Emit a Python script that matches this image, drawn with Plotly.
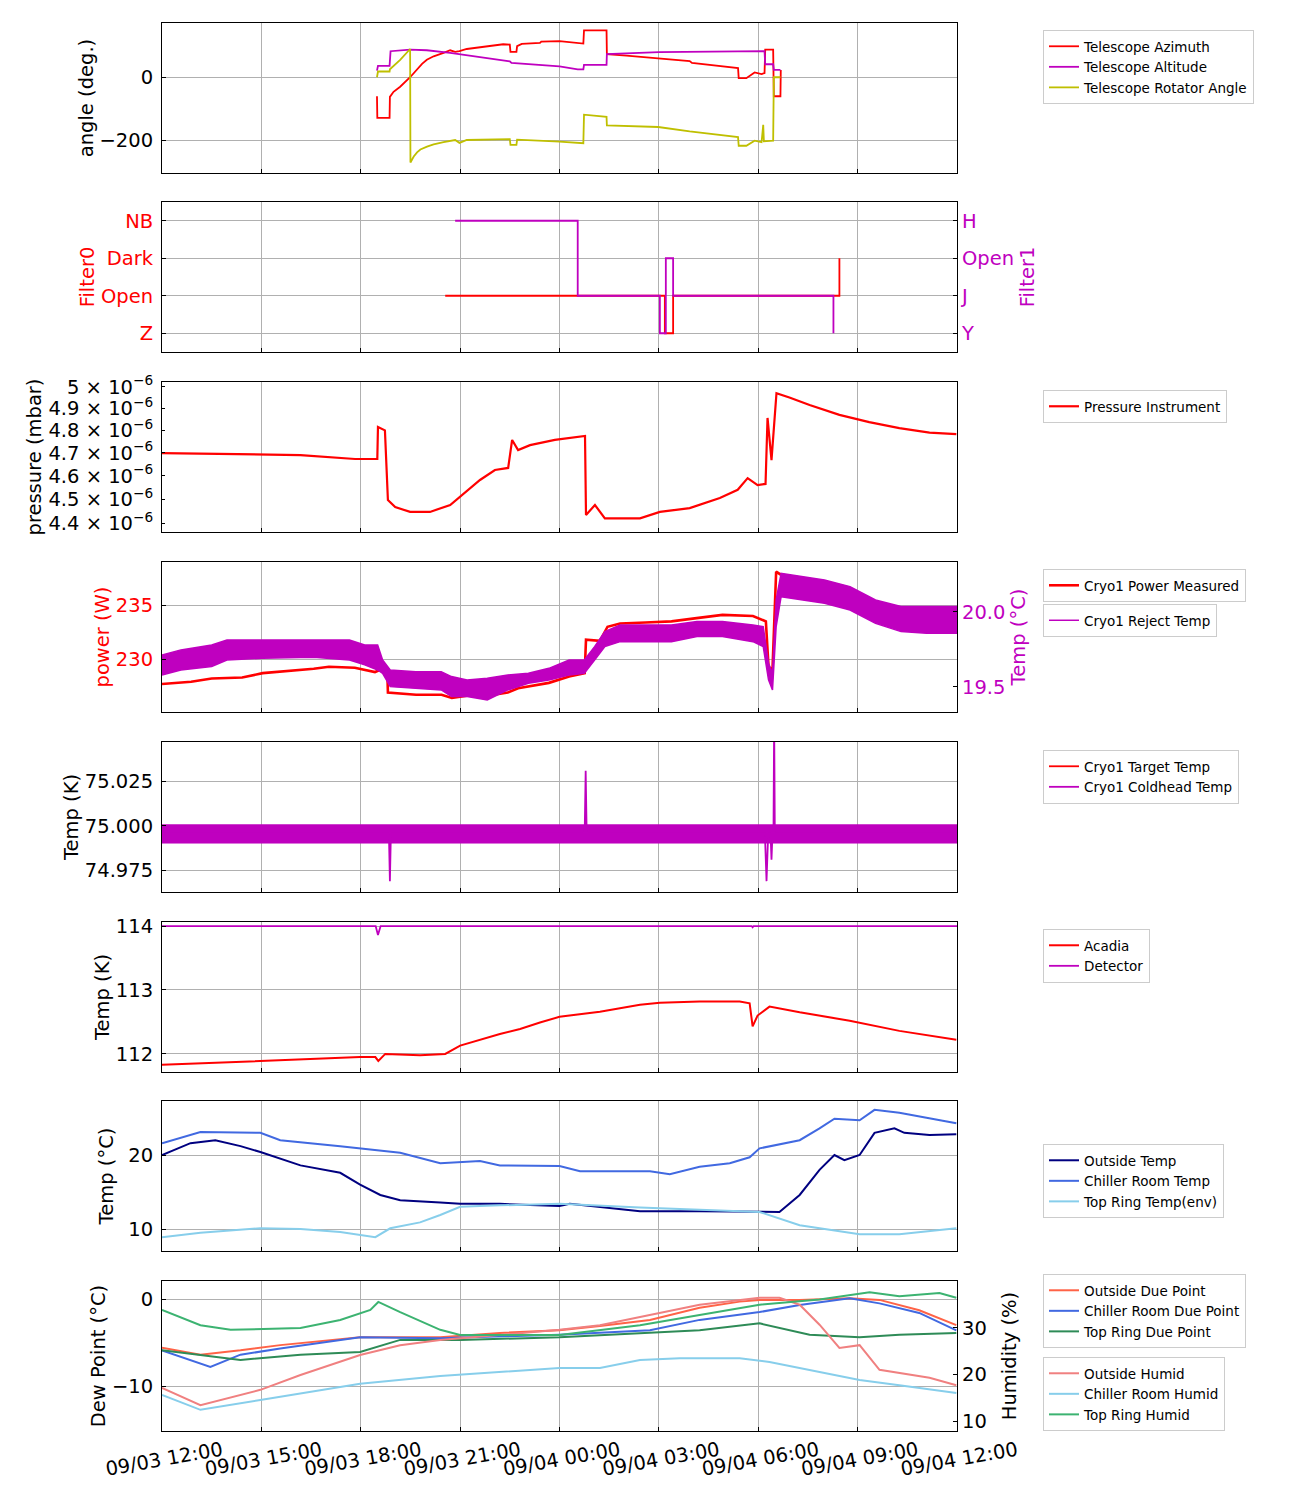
import pandas as pd
import plotly.graph_objects as go

BASE = pd.Timestamp("2023-09-03 00:00")


def T(hours):
    return [BASE + pd.Timedelta(hours=h) for h in hours]


# ---------------- x ticks ----------------
TICK_HOURS = [12, 15, 18, 21, 24, 27, 30, 33, 36]
TICK_LABELS = ["09/03 12:00", "09/03 15:00", "09/03 18:00", "09/03 21:00",
               "09/04 00:00", "09/04 03:00", "09/04 06:00", "09/04 09:00", "09/04 12:00"]

# ---------------- panel 1: telescope angles (deg) ----------------
AZ_H = [18.49, 18.50, 18.87, 18.88, 18.99, 19.19, 19.49, 19.7, 19.85, 19.995, 20.2, 20.5, 20.7, 20.85,
        20.98, 21.2, 21.5, 22.0, 22.3, 22.5, 22.52, 22.7, 22.72, 22.86, 23.41, 23.45, 24.0, 24.72, 24.74,
        25.42, 25.43, 26.02, 26.98, 27.93, 28.0, 29.39, 29.41, 29.64, 29.89, 30.1, 30.19, 30.21, 30.45,
        30.47, 30.67, 30.68]
AZ_V = [-60, -128, -128, -62, -46, -30, 0, 25, 42, 55, 66, 77, 85, 80,
        82, 89, 93, 100, 104, 103, 80, 80, 98, 105, 108, 112, 114, 106, 148,
        148, 73, 68, 60, 51, 45, 29, -3, -3, 15, 10, 13, 87, 87,
        -60, -60, 23]

ALT_H = [18.49, 18.52, 18.87, 18.9, 19.49, 19.995, 20.7, 21.5, 22.0, 22.5, 22.55, 24.0, 24.55, 24.72,
         24.74, 25.42, 25.43, 27.0, 30.19, 30.21, 30.45, 30.47, 30.67]
ALT_V = [21, 36, 36, 82, 87, 85, 77, 66, 58, 50, 45, 34, 25, 25,
         39, 39, 73, 79, 82, 41, 41, 23, 23]

ROT_H = [18.49, 18.52, 18.87, 18.88, 19.19, 19.49, 19.5, 19.6, 19.7, 19.8, 20.0, 20.2, 20.5, 20.85,
         20.98, 21.2, 22.5, 22.52, 22.7, 22.72, 24.0, 24.72, 24.74, 25.42, 25.43, 26.98, 27.93, 29.39,
         29.41, 29.64, 29.89, 30.1, 30.15, 30.17, 30.45, 30.47, 30.67]
ROT_V = [0, 18, 18, 25, 55, 89, -269, -250, -237, -228, -219, -212, -205, -198,
         -207, -198, -195, -213, -213, -197, -203, -208, -118, -125, -152, -157, -171, -189,
         -216, -216, -200, -205, -150, -202, -200, 0, 0]

# ---------------- panel 2: filters ----------------
F0_LABELS = ["Z", "Open", "Dark", "NB"]
F1_LABELS = ["Y", "J", "Open", "H"]
F0_H = [20.55, 27.18, 27.43, 32.45]
F0_V = [1, 0, 1, 2]
F1_H = [20.85, 24.55, 27.03, 27.21, 27.43, 32.27]
F1_V = [3, 1, 0, 2, 1, 0]

# ---------------- panel 3: pressure (mbar) ----------------
PRES_H = [12.0, 16.18, 17.83, 18.5, 18.52, 18.73, 18.82, 19.04, 19.49, 20.09, 20.7, 21.0, 21.3, 21.6,
          22.05, 22.45, 22.57, 22.75, 23.11, 23.86, 24.77, 24.8, 25.07, 25.37, 26.43, 27.03, 27.93,
          28.84, 29.38, 29.68, 29.98, 30.22, 30.28, 30.4, 30.55, 30.94, 31.55, 32.45, 33.35, 34.26,
          35.17, 35.98]
PRES_V = [4.699e-6, 4.69e-6, 4.673e-6, 4.673e-6, 4.815e-6, 4.80e-6, 4.497e-6, 4.467e-6, 4.447e-6,
          4.447e-6, 4.476e-6, 4.51e-6, 4.548e-6, 4.582e-6, 4.625e-6, 4.634e-6, 4.757e-6, 4.712e-6,
          4.734e-6, 4.757e-6, 4.775e-6, 4.434e-6, 4.476e-6, 4.42e-6, 4.42e-6, 4.447e-6, 4.463e-6,
          4.505e-6, 4.54e-6, 4.59e-6, 4.56e-6, 4.565e-6, 4.856e-6, 4.668e-6, 4.97e-6, 4.95e-6,
          4.915e-6, 4.87e-6, 4.837e-6, 4.81e-6, 4.79e-6, 4.783e-6]
PRES_TICKS = [4.4e-6, 4.5e-6, 4.6e-6, 4.7e-6, 4.8e-6, 4.9e-6, 5.0e-6]
PRES_TICKTEXT = ["4.4 × 10<sup>−6</sup>", "4.5 × 10<sup>−6</sup>", "4.6 × 10<sup>−6</sup>",
                 "4.7 × 10<sup>−6</sup>", "4.8 × 10<sup>−6</sup>", "4.9 × 10<sup>−6</sup>",
                 "5 × 10<sup>−6</sup>"]

# ---------------- panel 4: cryo power (W) and reject temp (°C) ----------------
POW_H = [12.0, 12.88, 13.5, 14.42, 15.04, 16.58, 17.04, 17.82, 18.43, 18.59, 18.8, 18.82, 19.67,
         20.44, 20.75, 21.21, 21.83, 22.44, 22.75, 23.68, 24.29, 24.76, 24.8, 25.22, 25.45, 25.83,
         26.6, 27.38, 28.14, 28.92, 29.84, 30.23, 30.31, 30.43, 30.54, 30.69, 32.0, 33.54, 34.32,
         35.08, 36.0]
POW_V = [227.7, 227.9, 228.2, 228.3, 228.7, 229.1, 229.3, 229.2, 228.8, 229.0, 229.0, 226.9, 226.7,
         226.7, 226.4, 226.6, 226.6, 226.9, 227.3, 227.8, 228.4, 228.7, 231.8, 231.7, 233.0, 233.3,
         233.4, 233.5, 233.8, 234.1, 234.0, 233.5, 229.3, 229.0, 238.1, 237.8, 236.8, 235.2, 234.0,
         232.9, 232.6]

REJ_H = [12.0, 12.57, 13.50, 13.96, 15.04, 16.58, 17.66, 18.12, 18.51, 18.66, 18.89, 19.66, 20.43,
         20.74, 21.21, 21.82, 22.44, 23.06, 23.68, 24.29, 24.75, 25.06, 25.37, 25.83, 27.38, 28.15,
         28.92, 29.84, 30.15, 30.31, 30.43, 30.54, 30.69, 32.0, 32.77, 33.54, 34.31, 35.08, 36.0]
REJ_HI = [19.713, 19.747, 19.780, 19.813, 19.813, 19.813, 19.813, 19.780, 19.780, 19.680, 19.613,
          19.602, 19.602, 19.569, 19.547, 19.558, 19.580, 19.591, 19.624, 19.680, 19.680, 19.769,
          19.869, 19.913, 19.913, 19.936, 19.936, 19.913, 19.902, 19.658, 19.591, 20.080, 20.258,
          20.213, 20.169, 20.080, 20.036, 20.036, 20.036]
REJ_LO = [19.580, 19.613, 19.636, 19.680, 19.691, 19.698, 19.680, 19.647, 19.613, 19.591, 19.502,
          19.491, 19.480, 19.436, 19.436, 19.413, 19.480, 19.524, 19.547, 19.580, 19.591, 19.680,
          19.769, 19.802, 19.802, 19.836, 19.836, 19.802, 19.769, 19.547, 19.480, 19.902, 20.102,
          20.058, 20.013, 19.924, 19.869, 19.858, 19.858]

# ---------------- panel 5: cryo temps (K) ----------------
TGT_H = [12.0, 36.0]
TGT_V = [75.0, 75.0]
CH_BAND_H = [12.0, 36.0]
CH_BAND_HI = [75.0008, 75.0008]
CH_BAND_LO = [74.9903, 74.9903]
CH_H = [12.0, 18.85, 18.88, 18.91, 24.76, 24.79, 24.82, 30.2, 30.25, 30.3, 30.37, 30.4, 30.43,
        30.46, 30.48, 30.5, 30.53, 36.0]
CH_V = [74.996, 74.996, 74.969, 74.996, 74.996, 75.031, 74.996, 74.996, 74.969, 74.996, 74.996,
        74.981, 74.996, 74.996, 75.06, 74.996, 74.996, 74.996]

# ---------------- panel 6: Acadia / Detector (K) ----------------
ACA_H = [12.0, 14.97, 16.18, 17.98, 18.44, 18.53, 18.74, 19.79, 20.55, 21.0, 22.2, 22.81, 23.41,
         24.0, 25.22, 26.43, 27.03, 28.23, 29.44, 29.74, 29.83, 29.98, 30.34, 31.25, 32.76, 34.26,
         35.98]
ACA_V = [111.83, 111.89, 111.92, 111.95, 111.95, 111.89, 112.0, 111.98, 112.0, 112.13, 112.31,
         112.39, 112.49, 112.58, 112.66, 112.77, 112.8, 112.82, 112.82, 112.79, 112.43, 112.6,
         112.74, 112.65, 112.52, 112.36, 112.22]
DET_H = [12.0, 18.45, 18.52, 18.6, 29.8, 29.83, 29.86, 36.0]
DET_V = [114.0, 114.0, 113.86, 114.0, 114.0, 113.98, 114.0, 114.0]

# ---------------- panel 7: temperatures (°C) ----------------
OUT_T_H = [12.0, 12.86, 13.61, 14.37, 14.97, 16.18, 17.38, 17.98, 18.59, 19.19, 20.4, 21.0, 22.2,
           24.0, 24.31, 26.43, 28.23, 30.04, 30.64, 31.25, 31.85, 32.3, 32.6, 33.06, 33.51, 34.11,
           34.41, 35.17, 35.98]
OUT_T_V = [20.0, 21.6, 22.0, 21.2, 20.4, 18.6, 17.6, 16.0, 14.6, 13.9, 13.6, 13.4, 13.4,
           13.1, 13.4, 12.4, 12.4, 12.3, 12.3, 14.6, 18.0, 20.0, 19.3, 20.0, 23.0, 23.6,
           23.0, 22.7, 22.8]
CHL_T_H = [12.0, 13.16, 14.97, 15.57, 17.38, 19.19, 20.4, 21.6, 22.2, 24.0, 24.62, 26.73, 27.33,
           28.23, 29.14, 29.74, 30.04, 31.25, 31.85, 32.3, 33.06, 33.51, 34.26, 35.17, 35.98]
CHL_T_V = [21.6, 23.1, 23.0, 22.0, 21.2, 20.3, 18.9, 19.2, 18.6, 18.5, 17.8, 17.8, 17.4,
           18.4, 18.9, 19.7, 20.9, 22.0, 23.6, 24.9, 24.7, 26.1, 25.7, 25.0, 24.3]
TOP_T_H = [12.0, 13.16, 14.97, 16.18, 17.38, 18.44, 18.89, 19.79, 20.4, 21.0, 22.2, 24.0, 26.43,
           28.23, 30.04, 31.25, 33.06, 34.26, 35.98]
TOP_T_V = [8.9, 9.5, 10.1, 10.0, 9.6, 8.9, 10.1, 10.9, 11.9, 13.0, 13.2, 13.4, 12.9,
           12.6, 12.3, 10.5, 9.3, 9.3, 10.1]

# ---------------- panel 8: dew points (°C) and humidity (%) ----------------
OUT_D_H = [12.0, 13.16, 14.37, 15.57, 17.98, 20.4, 22.2, 24.0, 25.22, 26.73, 28.23, 29.44, 30.04,
           31.25, 32.76, 33.66, 34.86, 35.98]
OUT_D_V = [-5.6, -6.4, -5.9, -5.3, -4.4, -4.4, -3.9, -3.6, -3.1, -2.4, -1.0, -0.3, -0.1,
           -0.1, 0.1, -0.1, -1.3, -3.0]
CHL_D_H = [12.0, 13.46, 14.37, 15.57, 17.98, 20.4, 24.0, 26.73, 28.23, 30.04, 31.25, 32.76, 33.66,
           34.86, 35.98]
CHL_D_V = [-5.9, -7.8, -6.4, -5.7, -4.4, -4.5, -4.1, -3.6, -2.4, -1.5, -0.7, 0.1, -0.5,
           -1.6, -3.6]
TOP_D_H = [12.0, 14.37, 16.18, 17.98, 19.19, 21.0, 24.0, 26.73, 28.23, 30.04, 30.95, 31.55, 33.06,
           34.26, 35.98]
TOP_D_V = [-5.9, -7.0, -6.4, -6.1, -4.7, -4.7, -4.4, -3.9, -3.6, -2.8, -3.6, -4.1, -4.4,
           -4.1, -3.9]

OUT_H_H = [12.0, 13.16, 14.97, 16.18, 17.98, 19.19, 20.4, 22.2, 24.0, 25.22, 26.73, 28.23, 30.04,
           30.64, 31.25, 31.85, 32.45, 33.06, 33.66, 34.26, 35.17, 35.98]
OUT_H_V = [17.1, 13.4, 16.7, 19.9, 24.2, 26.3, 27.4, 28.5, 29.6, 30.6, 32.8, 35.0, 36.5,
           36.5, 35.0, 30.7, 25.7, 26.3, 21.0, 20.3, 19.3, 17.7]
CHL_H_H = [12.0, 13.16, 14.97, 17.98, 20.4, 22.2, 24.0, 25.22, 26.43, 27.63, 29.44, 30.34, 31.55,
           33.06, 34.26, 35.98]
CHL_H_V = [15.6, 12.4, 14.5, 18.0, 19.7, 20.5, 21.4, 21.4, 23.1, 23.5, 23.5, 22.7, 21.0,
           18.8, 17.7, 16.0]
TOP_H_H = [12.0, 13.16, 14.07, 16.18, 17.38, 18.29, 18.53, 19.19, 20.4, 21.0, 24.0, 25.22, 26.43,
           28.23, 30.04, 31.85, 33.36, 34.26, 35.47, 35.98]
TOP_H_V = [33.9, 30.6, 29.6, 30.0, 31.7, 33.9, 35.6, 33.4, 29.6, 28.5, 28.5, 29.6, 30.6,
           32.8, 35.0, 36.1, 37.7, 36.8, 37.5, 36.5]

# ======================================================================
RED = "#ff0000"
MAG = "#bf00bf"
OLIVE = "#bfbf00"
FONT = "DejaVu Sans"
TICKSIZE = 19.5
LEGSIZE = 13.5
LW = 1.8

OFF = 8  # browser body margin
W, H = 1300, 1500
PLOT_L, PLOT_R, PLOT_T, PLOT_B = 162, 957, 23, 1431   # target page coordinates
ML = PLOT_L - OFF
MT = PLOT_T - OFF
MR = W - ML - (PLOT_R - PLOT_L)
MB = H - MT - (PLOT_B - PLOT_T)
PH = PLOT_B - PLOT_T
PANEL_TOPS = [23, 202, 382, 562, 742, 922, 1101, 1281]
PANEL_H = 150


def dom(i):
    top = PANEL_TOPS[i]
    return [1 - (top + PANEL_H - PLOT_T) / PH, 1 - (top - PLOT_T) / PH]


def py(p):
    return 1 - (p - PLOT_T) / PH


fig = go.Figure()


def add(hours, vals, name, color, xa, ya, legend=None, showlegend=True, **kw):
    fig.add_trace(go.Scatter(
        x=T(hours), y=vals, name=name, mode="lines",
        line=dict(color=color, width=kw.pop("width", LW), shape=kw.pop("shape", "linear")),
        xaxis=xa, yaxis=ya, legend=legend, showlegend=showlegend, **kw))


# panel 1
add(AZ_H, AZ_V, "Telescope Azimuth", RED, "x", "y", "legend")
add(ALT_H, ALT_V, "Telescope Altitude", MAG, "x", "y", "legend")
add(ROT_H, ROT_V, "Telescope Rotator Angle", OLIVE, "x", "y", "legend")
# panel 2
add(F0_H, F0_V, "Filter0", RED, "x2", "y2", showlegend=False, shape="hv")
add(F1_H, F1_V, "Filter1", MAG, "x2", "y9", showlegend=False, shape="hv")
# panel 3
add(PRES_H, PRES_V, "Pressure Instrument", RED, "x3", "y3", "legend2", width=2.2)
# panel 4
add(POW_H, POW_V, "Cryo1 Power Measured", RED, "x4", "y4", "legend3", width=2.6)
add(REJ_H, REJ_HI, "Cryo1 Reject Temp", MAG, "x4", "y10", "legend4", width=1.5)
add(REJ_H, REJ_LO, "Cryo1 Reject Temp", MAG, "x4", "y10", "legend4", showlegend=False,
    width=1.5, fill="tonexty", fillcolor=MAG)
# panel 5
add(TGT_H, TGT_V, "Cryo1 Target Temp", RED, "x5", "y5", "legend5")
add(CH_BAND_H, CH_BAND_HI, "band", MAG, "x5", "y5", "legend5", showlegend=False, width=0.5)
add(CH_BAND_H, CH_BAND_LO, "band", MAG, "x5", "y5", "legend5", showlegend=False, width=0.5,
    fill="tonexty", fillcolor=MAG)
add(CH_H, CH_V, "Cryo1 Coldhead Temp", MAG, "x5", "y5", "legend5")
# panel 6
add(ACA_H, ACA_V, "Acadia", RED, "x6", "y6", "legend6", width=2)
add(DET_H, DET_V, "Detector", MAG, "x6", "y6", "legend6")
# panel 7
add(OUT_T_H, OUT_T_V, "Outside Temp", "#000080", "x7", "y7", "legend7", width=2)
add(CHL_T_H, CHL_T_V, "Chiller Room Temp", "#4169e1", "x7", "y7", "legend7", width=2)
add(TOP_T_H, TOP_T_V, "Top Ring Temp(env)", "#87ceeb", "x7", "y7", "legend7", width=2)
# panel 8
add(OUT_D_H, OUT_D_V, "Outside Due Point", "#ff6347", "x8", "y8", "legend8", width=2)
add(CHL_D_H, CHL_D_V, "Chiller Room Due Point", "#4169e1", "x8", "y8", "legend8", width=2)
add(TOP_D_H, TOP_D_V, "Top Ring Due Point", "#2e8b57", "x8", "y8", "legend8", width=2)
add(OUT_H_H, OUT_H_V, "Outside Humid", "#f08080", "x8", "y11", "legend9", width=2)
add(CHL_H_H, CHL_H_V, "Chiller Room Humid", "#87ceeb", "x8", "y11", "legend9", width=2)
add(TOP_H_H, TOP_H_V, "Top Ring Humid", "#3cb371", "x8", "y11", "legend9", width=2)

axis_common = dict(showline=True, linecolor="black", linewidth=1, mirror=True,
                   ticks="inside", ticklen=4, tickcolor="black", zeroline=False,
                   gridcolor="#b0b0b0", gridwidth=1,
                   tickfont=dict(family=FONT, size=TICKSIZE, color="black"),
                   title_font=dict(family=FONT, size=TICKSIZE, color="black"))

layout = dict(width=W, height=H, margin=dict(l=ML, r=MR, t=MT, b=MB),
              paper_bgcolor="white", plot_bgcolor="white", template="none",
              font=dict(family=FONT, size=TICKSIZE, color="black"))

x_range = T([12, 36])
for i in range(8):
    key = "xaxis" if i == 0 else f"xaxis{i + 1}"
    ax = dict(axis_common)
    ax.update(domain=[0, 1], anchor="y" if i == 0 else f"y{i + 1}", type="date",
              range=x_range, tickvals=T(TICK_HOURS), ticktext=TICK_LABELS,
              showgrid=True, showticklabels=(i == 7))
    if i > 0:
        ax["matches"] = "x"
    if i == 7:
        ax.update(tickangle=-10, ticklabelshift=60)
    layout[key] = ax


def yax(i, **kw):
    ax = dict(axis_common)
    ax.update(domain=dom(i), anchor="x" if i == 0 else f"x{i + 1}", showgrid=True,
              ticklabelstandoff=4)
    ax.update(kw)
    return ax


layout["yaxis"] = yax(0, range=[-302, 171], tickvals=[-200, 0], title_text="angle (deg.)")
layout["yaxis2"] = yax(1, range=[-0.5, 3.5], tickvals=[0, 1, 2, 3], ticktext=F0_LABELS,
                       tickfont=dict(family=FONT, size=TICKSIZE, color=RED),
                       title=dict(text="Filter0", font=dict(family=FONT, size=TICKSIZE, color=RED)))
layout["yaxis3"] = yax(2, type="log", range=[-5.3601, -5.2991], tickvals=PRES_TICKS,
                       ticktext=PRES_TICKTEXT, showgrid=False, ticklen=3,
                       title_text="pressure (mbar)")
layout["yaxis4"] = yax(3, range=[225.1, 239.0], tickvals=[230, 235],
                       tickfont=dict(family=FONT, size=TICKSIZE, color=RED),
                       title=dict(text="power (W)", font=dict(family=FONT, size=TICKSIZE, color=RED)))
layout["yaxis5"] = yax(4, range=[74.9629, 75.0472], tickvals=[74.975, 75.0, 75.025],
                       tickformat=".3f", title_text="Temp (K)")
layout["yaxis6"] = yax(5, range=[111.717, 114.063], tickvals=[112, 113, 114], title_text="Temp (K)")
layout["yaxis7"] = yax(6, range=[7.03, 27.3], tickvals=[10, 20], title_text="Temp (°C)")
layout["yaxis8"] = yax(7, range=[-15.17, 2.07], tickvals=[-10, 0], title_text="Dew Point (°C)")


def yright(i, overlay, **kw):
    ax = dict(axis_common)
    ax.update(domain=dom(i), anchor=f"x{i + 1}", overlaying=overlay, side="right",
              showgrid=False, showline=False, mirror=False, ticklabelstandoff=4)
    ax.update(kw)
    return ax


layout["yaxis9"] = yright(1, "y2", range=[-0.5, 3.5], tickvals=[0, 1, 2, 3], ticktext=F1_LABELS,
                          tickfont=dict(family=FONT, size=TICKSIZE, color=MAG),
                          title=dict(text="Filter1", font=dict(family=FONT, size=TICKSIZE, color=MAG)))
layout["yaxis10"] = yright(3, "y4", range=[19.333, 20.333], tickvals=[19.5, 20.0], tickformat=".1f",
                           tickfont=dict(family=FONT, size=TICKSIZE, color=MAG),
                           title=dict(text="Temp (°C)", font=dict(family=FONT, size=TICKSIZE, color=MAG)))
layout["yaxis11"] = yright(7, "y8", range=[7.85, 40.1], tickvals=[10, 20, 30],
                           title_text="Humidity (%)")

LEG_X = (1043 - PLOT_L) / (PLOT_R - PLOT_L)
leg_tops = {"legend": 30, "legend2": 390, "legend3": 569, "legend4": 604, "legend5": 750,
            "legend6": 929, "legend7": 1144, "legend8": 1274, "legend9": 1357}
for k, top in leg_tops.items():
    layout[k] = dict(x=LEG_X, y=py(top), xanchor="left", yanchor="top", bgcolor="white",
                     bordercolor="#cccccc", borderwidth=1, tracegroupgap=0, traceorder="normal",
                     font=dict(family=FONT, size=LEGSIZE, color="black"), itemwidth=30)

fig.update_layout(**layout)
fig.write_html("out.html")
